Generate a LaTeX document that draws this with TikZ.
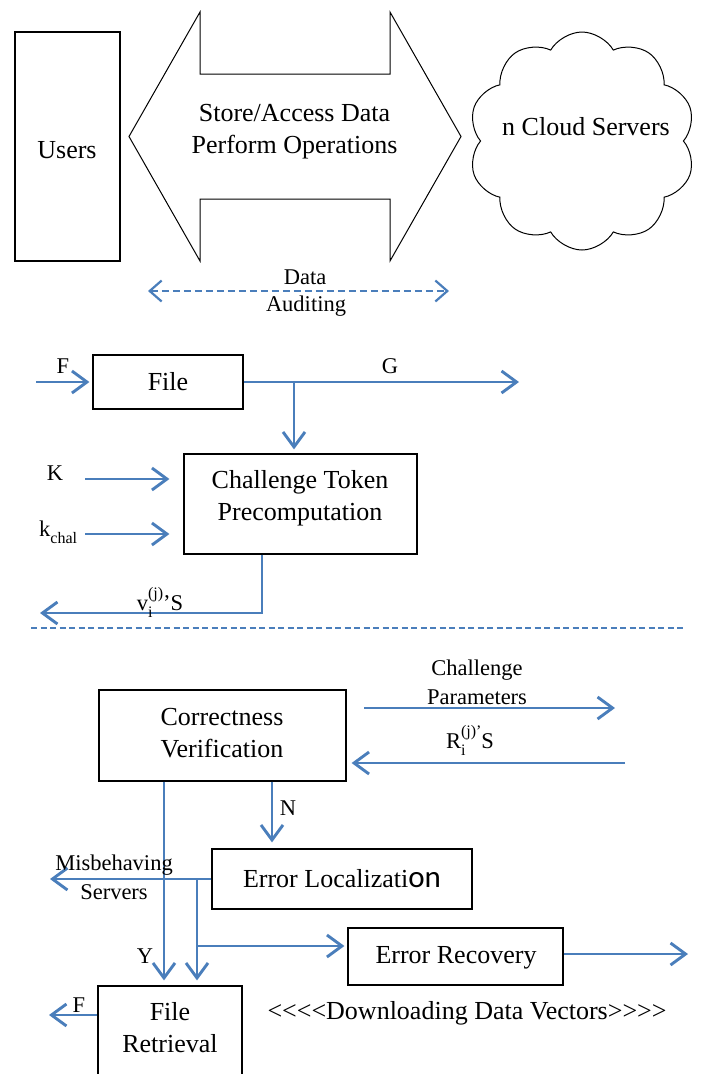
\documentclass[tikz,border=0pt]{standalone}
\usepackage{fontspec}
\setmainfont{Liberation Serif}
\newfontfamily\carlito{Carlito}
\usetikzlibrary{arrows.meta,shapes.symbols}

\definecolor{flowblue}{HTML}{4A7EBB}

\tikzset{
  box/.style={draw=black, line width=1.2pt, inner sep=0pt, align=center,
    font=\fontsize{26}{32}\selectfont},
  txt/.style={inner sep=0pt, align=center, font=\fontsize{26}{32}\selectfont},
  sml/.style={inner sep=0pt, align=center, font=\fontsize{22.5}{29}\selectfont},
  flow/.style={draw=flowblue, line width=2.9pt, -{Straight Barb[length=15pt,width=22pt]}},
  audit/.style={draw=flowblue, line width=2.2pt, dash pattern=on 7pt off 4pt,
    {Straight Barb[length=12pt,width=21pt]}-{Straight Barb[length=12pt,width=21pt]}},
  separator/.style={draw=flowblue, line width=2pt, dash pattern=on 6pt off 3.5pt},
}

\newcommand{\subtxt}[1]{\raisebox{-0.32em}{\fontsize{16}{16}\selectfont #1}}
\newcommand{\suptxt}[1]{\raisebox{0.5em}{\fontsize{16}{16}\selectfont #1}}

\begin{document}
\begin{tikzpicture}[x=1pt,y=-1pt]
\clip (0,0) rectangle (701,1074);
\fill[white] (0,0) rectangle (701,1074);

% ---------- storage architecture ----------
\node[box, minimum width=105pt, minimum height=229pt] (users) at (67.5,146.5) {};
\node[txt] (userstxt) at (67,150) {Users};

\draw[black, line width=1pt, line join=miter]
  (200,12) -- (200,74) -- (390,74) -- (390,12) -- (461,136.5) -- (390,261)
  -- (390,199) -- (200,199) -- (200,261) -- (129,136.5) -- cycle;
\node[txt] (ops) at (294.5,132) {Store/Access Data\\Perform Operations};

\node[cloud, draw=black, line width=1pt, cloud puffs=10, cloud puff arc=120,
      aspect=1.04, minimum width=227pt, minimum height=218pt, inner sep=0pt]
      (cloud) at (582,141) {};
\node[txt] (cloudtxt) at (586,127) {n Cloud Servers};

\coordinate (audL) at (148,291);
\coordinate (audR) at (449,291);
\draw[audit] (audL) -- (audR);
\node[sml] (audtop) at (305,277) {Data};
\node[sml] (audbot) at (306,306) {Auditing};

% ---------- token precomputation ----------
\node[box, minimum width=150pt, minimum height=54pt] (file) at (168,382) {File};
\coordinate (fin) at (36,382);
\draw[flow, shorten >=3pt] (fin) -- (file.west);
\node[sml] (flab) at (63,366) {F};

\coordinate (gout) at (519,382);
\draw[flow] (file.east) -- (gout);
\node[sml] (glab) at (390,366) {G};

\node[box, minimum width=233pt, minimum height=100pt] (ct) at (300.5,504) {};
\node[txt] (cttxt) at (300,498) {Challenge Token\\Precomputation};

\coordinate (gbr) at (294,382);
\draw[flow, shorten >=4pt] (gbr) -- (gbr |- ct.north);

\coordinate (kin) at (85,479);
\draw[flow, shorten >=14pt] (kin) -- (kin -| ct.west);
\node[sml] (klab) at (55,473) {K};

\coordinate (kcin) at (85,534);
\draw[flow, shorten >=14pt] (kcin) -- (kcin -| ct.west);
\node[sml, anchor=base west] (kclab) at (39,536) {k\subtxt{chal}};

\coordinate (vout) at (40,613);
\draw[flow] ([xshift=-38.5pt]ct.south) |- (vout);
\node[sml, anchor=base] (vlab) at (160,610) {v\rlap{\subtxt{i}}\suptxt{(j)}’S};

\coordinate (sepL) at (31,628);
\coordinate (sepR) at (684,628);
\draw[separator] (sepL) -- (sepR);

% ---------- verification and recovery ----------
\node[box, minimum width=247pt, minimum height=91pt] (cv) at (222.5,735.5) {};
\node[txt] (cvtxt) at (222,733) {Correctness\\Verification};

\coordinate (cpL) at (364,708);
\coordinate (cpR) at (615,708);
\draw[flow] (cpL) -- (cpR);
\node[sml] (cplab) at (477,682) {Challenge\\Parameters};

\coordinate (rin) at (625,763);
\draw[flow, shorten >=5pt] (rin) -- (rin -| cv.east);
\node[sml, anchor=base] (rlab) at (470,748) {R\rlap{\subtxt{i}}\suptxt{(j)’}S};

\node[box, minimum width=260pt, minimum height=60pt] (el) at (342,879)
  {Error Localizati{\carlito\fontsize{31}{31}\selectfont on}};
\draw[flow, shorten >=6pt] ([xshift=49.5pt]cv.south) -- ([xshift=-70pt]el.north);
\node[sml] (nlab) at (288,808) {N};

\node[box, minimum width=215pt, minimum height=57pt] (er) at (455.5,956.5) {};
\node[txt] (ertxt) at (456,958) {Error Recovery};
\node[box, minimum width=144pt, minimum height=120pt] (fr) at (170,1046) {};
\node[txt] (frtxt) at (170,1028) {File\\Retrieval};

\draw[flow, shorten >=5pt] ([xshift=-58.5pt]cv.south) -- ([xshift=-6pt]fr.north);
\node[sml] (ylab) at (145,956) {Y};

\coordinate (mbout) at (50,879);
\draw[flow] (el.west) -- (mbout);
\node[sml] (mblab) at (114,877) {Misbehaving\\Servers};

\coordinate (elbr) at (197,879);
\draw[flow, shorten >=5pt] (elbr) -- ([xshift=27pt]fr.north);

\coordinate (erbr) at (197,946);
\draw[flow, shorten >=3pt] (erbr) -- (erbr -| er.west);

\coordinate (erout) at (688,954);
\draw[flow] (erout -| er.east) -- (erout);

\coordinate (frout) at (49,1015);
\draw[flow] (frout -| fr.west) -- (frout);
\node[sml] (froutlab) at (79,1005) {F};

\node[txt] (dl) at (467,1013) {<{}<{}<{}<{}Downloading Data Vectors>{}>{}>{}>};
\end{tikzpicture}
\end{document}
